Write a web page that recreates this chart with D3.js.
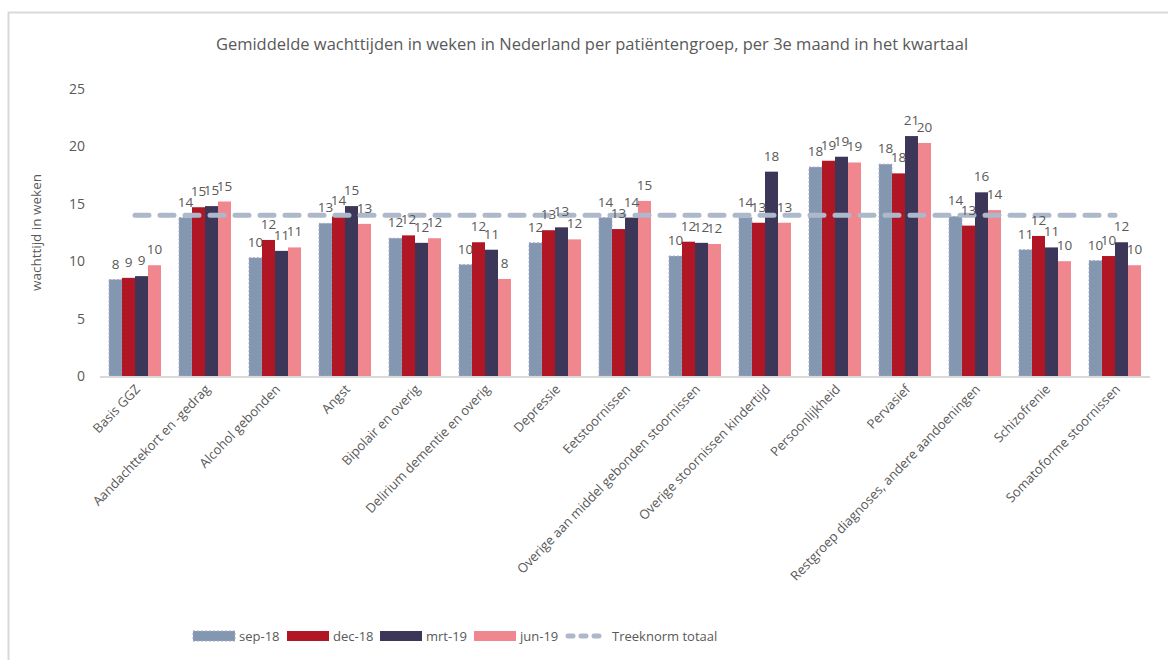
<!DOCTYPE html>
<html>
<head>
<meta charset="utf-8">
<script src="https://cdn.jsdelivr.net/npm/d3@7"></script>
<style>
  body { margin: 0; background: #fff; }
  text { font-family: "Open Sans", sans-serif; fill: #595959; }
</style>
</head>
<body>
<div id="chart"></div>
<script>
// Data
const categories = [
  'Basis GGZ', 'Aandachttekort en -gedrag', 'Alcohol gebonden', 'Angst',
  'Bipolair en overig', 'Delirium dementie en overig', 'Depressie', 'Eetstoornissen',
  'Overige aan middel gebonden stoornissen', 'Overige stoornissen kindertijd',
  'Persoonlijkheid', 'Pervasief', 'Restgroep diagnoses, andere aandoeningen',
  'Schizofrenie', 'Somatoforme stoornissen'
];
const sep18 = [8.4, 13.8, 10.3, 13.3, 12.0, 9.7, 11.6, 13.8, 10.45, 13.8, 18.2, 18.45, 13.9, 11.0, 10.05];
const dec18 = [8.55, 14.7, 11.85, 13.9, 12.25, 11.65, 12.7, 12.8, 11.7, 13.35, 18.75, 17.65, 13.1, 12.2, 10.45];
const mrt19 = [8.7, 14.8, 10.9, 14.8, 11.6, 11.0, 12.95, 13.8, 11.6, 17.8, 19.1, 20.9, 16.0, 11.2, 11.65];
const jun19 = [9.65, 15.2, 11.2, 13.25, 12.0, 8.45, 11.9, 15.25, 11.5, 13.35, 18.6, 20.3, 14.45, 10.0, 9.65];
const treeknorm = 14;
const seriesNames = ['sep-18', 'dec-18', 'mrt-19', 'jun-19'];
const yTicks = [0, 5, 10, 15, 20, 25];

const COLORS = ['#8497b0', '#b01623', '#3c3759', '#f0868e'];
const NORM_COLOR = '#adb9ca';

const width = 1168, height = 660;

const svg = d3.select('#chart').append('svg')
  .attr('width', width).attr('height', height);

// chart border
svg.append('rect')
  .attr('x', 8.5).attr('y', 12.5)
  .attr('width', width + 20).attr('height', height + 20)
  .attr('fill', 'none').attr('stroke', '#d9d9d9').attr('stroke-width', 2);

// title
svg.append('text')
  .attr('x', 592).attr('y', 50)
  .attr('text-anchor', 'middle')
  .style('font-size', '16.5px')
  .text('Gemiddelde wachttijden in weken in Nederland per patiëntengroep, per 3e maand in het kwartaal');

const x = d3.scaleBand().domain(categories).range([100, 1150]).padding(0);
const xs = d3.scaleBand().domain(seriesNames).range([-26, 26]).padding(0);
const y = d3.scaleLinear().domain([0, 25]).range([376, 89]);

const g = svg.append('g');

// y tick labels
g.selectAll('.ytick').data(yTicks).enter().append('text')
  .attr('x', 85).attr('y', d => y(d) + 5)
  .attr('text-anchor', 'end')
  .style('font-size', '14px')
  .text(d => d);

// y axis title
svg.append('text')
  .attr('transform', `translate(41, ${y(12.5)}) rotate(-90)`)
  .attr('text-anchor', 'middle')
  .style('font-size', '13.5px')
  .text('wachttijd in weken');

// bars
const all = [sep18, dec18, mrt19, jun19];
all.forEach((vals, si) => {
  const bars = g.append('g');
  bars.selectAll('rect').data(vals).enter().append('rect')
    .attr('x', (d, i) => x(categories[i]) + x.bandwidth() / 2 + xs(seriesNames[si]))
    .attr('y', d => y(d))
    .attr('width', xs.bandwidth())
    .attr('height', d => y(0) - y(d))
    .attr('fill', COLORS[si])
    .attr('stroke', si === 0 ? '#a9a9cc' : 'none')
    .attr('stroke-width', si === 0 ? 1 : 0)
    .attr('stroke-dasharray', si === 0 ? '2,2' : null);
});

// x axis baseline
g.append('line')
  .attr('x1', 100).attr('x2', 1150)
  .attr('y1', y(0) + 1).attr('y2', y(0) + 1)
  .attr('stroke', '#d9d9d9').attr('stroke-width', 2);

// treeknorm line
const line = d3.line()
  .x(d => x(d) + x.bandwidth() / 2)
  .y(() => y(treeknorm));
g.append('path')
  .datum(categories)
  .attr('d', line)
  .attr('fill', 'none')
  .attr('stroke', NORM_COLOR)
  .attr('stroke-width', 5)
  .attr('stroke-linecap', 'round')
  .attr('stroke-dasharray', '14,11');

// value labels
all.forEach((vals, si) => {
  g.append('g').selectAll('text').data(vals).enter().append('text')
    .attr('x', (d, i) => x(categories[i]) + x.bandwidth() / 2 + xs(seriesNames[si]) + xs.bandwidth() / 2)
    .attr('y', d => y(d) - 11)
    .attr('text-anchor', 'middle')
    .style('font-size', '13.5px')
    .text(d => Math.round(d));
});

// category labels
g.selectAll('.xlab').data(categories).enter().append('text')
  .attr('transform', d => `translate(${x(d) + x.bandwidth() / 2 + 6}, ${y(0) + 14}) rotate(-46)`)
  .attr('text-anchor', 'end')
  .style('font-size', '13px')
  .text(d => d);

// legend
const legendItems = [
  { name: 'sep-18', x: 193 },
  { name: 'dec-18', x: 287 },
  { name: 'mrt-19', x: 380 },
  { name: 'jun-19', x: 474 }
];
const ly = 636;
legendItems.forEach((it, i) => {
  svg.append('rect')
    .attr('x', it.x).attr('y', ly - 5)
    .attr('width', 42).attr('height', 10)
    .attr('fill', COLORS[i])
    .attr('stroke', i === 0 ? '#a9a9cc' : 'none')
    .attr('stroke-dasharray', i === 0 ? '2,2' : null);
  svg.append('text')
    .attr('x', it.x + 46).attr('y', ly + 5)
    .style('font-size', '13px')
    .text(it.name);
});
svg.append('line')
  .attr('x1', 568).attr('x2', 606)
  .attr('y1', ly).attr('y2', ly)
  .attr('stroke', NORM_COLOR).attr('stroke-width', 5)
  .attr('stroke-linecap', 'round')
  .attr('stroke-dasharray', '5,8');
svg.append('text')
  .attr('x', 612).attr('y', ly + 5)
  .style('font-size', '13px')
  .text('Treeknorm totaal');
</script>
</body>
</html>
